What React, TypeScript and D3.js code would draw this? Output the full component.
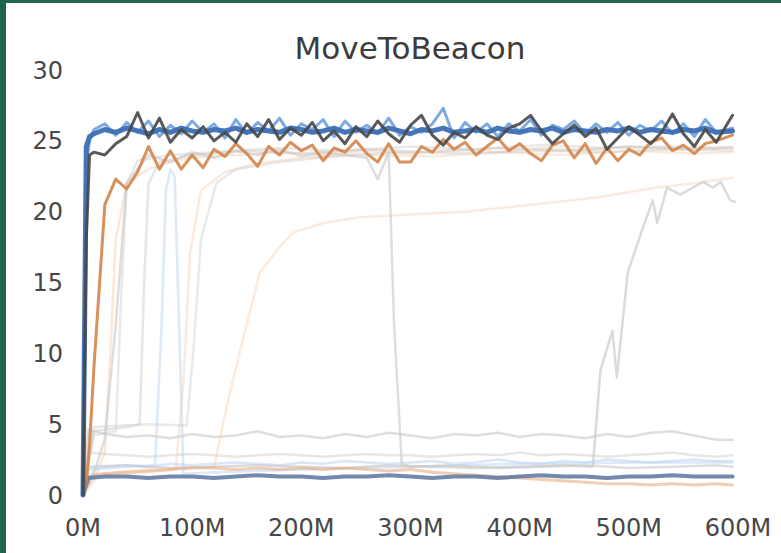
import React, { useEffect, useRef } from "react";
import * as d3 from "d3";

// training steps (in millions) shared by the highlighted runs
const steps = [
  0, 3, 6, 10, 20, 30, 40, 50, 60, 70, 80, 90, 100, 110, 120, 130, 140, 150, 160, 170, 180, 190, 200,
  210, 220, 230, 240, 250, 260, 270, 280, 290, 300, 310, 320, 330, 340, 350, 360, 370, 380, 390, 400,
  410, 420, 430, 440, 450, 460, 470, 480, 490, 500, 510, 520, 530, 540, 550, 560, 570, 580, 595,
];

const blueMain = [
  0, 24.6, 25.3, 25.5, 25.8, 25.6, 25.9, 25.7, 25.5, 25.8,
  25.6, 25.9, 25.7, 25.6, 25.8, 25.7, 25.9, 25.6, 25.8, 25.7,
  25.6, 25.9, 25.8, 25.6, 25.7, 25.9, 25.6, 25.8, 25.7, 25.6,
  25.9, 25.7, 25.5, 25.8, 25.7, 25.9, 25.6, 25.7, 25.8, 25.6,
  25.9, 25.7, 25.6, 25.8, 25.7, 25.9, 25.6, 25.8, 25.7, 25.6,
  25.8, 25.7, 25.9, 25.6, 25.8, 25.7, 25.6, 25.8, 25.7, 25.9, 25.6, 25.7,
];

const blueLight = [
  0, 23.5, 25.0, 25.8, 26.2, 25.4, 26.3, 25.6, 26.4, 25.3,
  26.1, 25.5, 26.4, 25.6, 26.2, 25.2, 26.5, 25.5, 26.3, 25.7,
  26.6, 25.4, 26.2, 25.8, 26.5, 25.3, 26.4, 25.6, 26.1, 25.5,
  26.6, 25.4, 26.0, 25.6, 26.2, 27.3, 25.2, 26.3, 25.6, 26.2,
  25.3, 26.2, 25.7, 26.5, 25.4, 26.1, 25.8, 26.4, 25.5, 26.2,
  25.6, 26.3, 25.4, 26.1, 25.7, 26.4, 25.5, 26.2, 25.3, 26.5, 25.6, 25.9,
];

const grayMain = [
  0, 18, 24.0, 24.2, 24.0, 24.8, 25.3, 27.0, 25.2, 26.6,
  24.9, 25.8, 25.2, 26.0, 25.0, 25.6, 24.9, 26.2, 25.3, 26.5,
  25.1, 25.9, 25.4, 26.3, 25.0, 25.7, 24.8, 26.0, 25.3, 26.4,
  25.5, 24.9, 26.1, 26.8, 25.4, 24.7, 25.6, 25.2, 26.0, 25.4,
  25.1, 25.9, 26.2, 26.8, 25.7, 24.8, 25.5, 26.1, 25.3, 25.9,
  24.4, 25.2, 26.0, 25.4, 24.8, 25.6, 26.9, 25.5, 24.6, 25.8, 24.9, 26.8,
];

const orangeMain = [
  0, 0.8, 3.5, 9, 20.5, 22.3, 21.6, 22.8, 24.6, 23.0,
  24.3, 23.0, 24.0, 23.1, 24.4, 23.9, 24.8, 24.1, 23.2, 24.6,
  24.0, 24.9, 24.3, 24.7, 23.6, 24.5, 24.2, 25.0, 24.1, 23.5,
  24.8, 23.5, 23.5, 24.6, 24.2, 25.1, 24.4, 24.9, 24.0, 24.6,
  25.2, 24.3, 24.8, 24.1, 23.6, 24.7, 25.0, 23.8, 24.8, 23.4,
  24.5, 23.6, 24.4, 24.0, 24.9, 25.2, 24.3, 24.7, 24.1, 24.8, 25.0, 25.4,
];

// coarse grid for the runs that stay low
const coarseSteps = [
  0, 5, 20, 40, 60, 80, 100, 120, 140, 160, 180, 200, 220, 240, 260, 280, 300,
  320, 340, 360, 380, 400, 420, 440, 460, 480, 500, 520, 540, 560, 580, 595,
];

const lowBlue = [
  0, 1.2, 1.3, 1.3, 1.2, 1.3, 1.3, 1.2, 1.3, 1.4, 1.3, 1.3, 1.2, 1.3, 1.3, 1.4,
  1.3, 1.2, 1.3, 1.3, 1.2, 1.3, 1.4, 1.3, 1.3, 1.2, 1.3, 1.3, 1.4, 1.3, 1.3, 1.3,
];
const lowOrange = [
  0, 1.3, 1.5, 1.6, 1.7, 1.8, 1.9, 1.9, 1.8, 1.9, 1.8, 1.9, 1.8, 1.9, 1.8, 1.7,
  1.8, 1.6, 1.5, 1.4, 1.3, 1.2, 1.1, 1.0, 0.9, 0.8, 0.8, 0.7, 0.8, 0.7, 0.8, 0.7,
];
const lowGrayA = [
  0, 4.6, 4.3, 4.1, 4.2, 4.0, 4.3, 4.1, 4.2, 4.5, 4.1, 4.2, 4.0, 4.3, 4.1, 4.4,
  4.2, 4.0, 4.3, 4.2, 4.4, 4.1, 4.3, 4.2, 4.0, 4.3, 4.1, 4.4, 4.5, 4.2, 3.9, 3.9,
];
const lowGrayB = [
  0, 3.0, 2.9, 2.8, 2.7, 2.8, 2.9, 2.8, 2.7, 2.8, 2.9, 2.8, 2.7, 2.8, 2.9, 2.8,
  2.8, 2.7, 2.8, 2.9, 2.8, 3.0, 2.8, 2.9, 2.8, 2.7, 2.8, 2.9, 3.0, 2.8, 2.7, 2.8,
];
const lowLightBlue = [
  0, 1.8, 2.0, 2.1, 2.0, 2.2, 2.1, 2.2, 2.3, 2.2, 2.1, 2.3, 2.2, 2.4, 2.3, 2.2,
  2.3, 2.4, 2.2, 2.3, 2.5, 2.3, 2.2, 2.4, 2.3, 2.5, 2.4, 2.3, 2.4, 2.5, 2.4, 2.4,
];

// faint runs with their own step grids
const crashSteps = [0, 10, 20, 30, 40, 60, 80, 100, 120, 140, 160, 180, 200, 220, 240, 260, 270, 280, 285, 292, 300, 340, 380, 420, 460, 500, 540, 580, 595];
const crashValues = [0, 1.5, 4, 12, 22, 24, 23.5, 24.2, 23.8, 24.3, 24.0, 24.4, 23.9, 24.2, 24.0, 23.8, 22.3, 24.2, 12, 2.2, 2.0, 2.1, 1.9, 2.0, 2.1, 1.9, 2.0, 2.1, 2.0];

const lateSteps = [0, 5, 40, 80, 120, 160, 200, 240, 280, 320, 360, 400, 440, 467, 474, 485, 489, 499, 513, 522, 526, 535, 547, 568, 577, 584, 593, 597];
const lateValues = [0, 2.0, 2.1, 1.9, 2.0, 2.1, 2.0, 1.9, 2.1, 2.0, 1.9, 2.0, 2.1, 2.0, 8.8, 11.6, 8.3, 15.7, 18.9, 20.8, 19.2, 21.7, 21.2, 22.1, 21.7, 22.1, 20.8, 20.7];

const slowSteps = [0, 10, 60, 120, 133, 144, 162, 180, 192, 220, 254, 300, 350, 413, 470, 526, 560, 595];
const slowValues = [0, 1.5, 1.8, 2.0, 6.7, 10.2, 15.7, 17.5, 18.5, 19.2, 19.6, 19.8, 20.0, 20.5, 21.0, 21.7, 22.0, 22.4];

const orangeBSteps = [0, 10, 20, 25, 30, 40, 60, 80, 100, 140, 180, 220, 260, 300, 340, 380, 420, 460, 500, 540, 580, 595];
const orangeBValues = [0, 1, 3, 10, 18, 22, 23, 23.5, 23.8, 24, 24.2, 24.0, 24.3, 24.1, 24.4, 24.2, 24.5, 24.3, 24.6, 24.4, 24.5, 24.6];

const orangeCSteps = [0, 10, 60, 85, 92, 98, 108, 130, 160, 200, 260, 320, 380, 440, 500, 560, 595];
const orangeCValues = [0, 1.4, 1.6, 1.8, 8, 17, 21.5, 22.8, 23.4, 23.8, 24.0, 23.9, 24.2, 24.0, 24.3, 24.1, 24.2];

const grayRiseASteps = [0, 10, 40, 52, 56, 60, 70, 100, 150, 200, 260, 320, 380, 440, 500, 560, 595];
const grayRiseAValues = [0, 4.5, 4.8, 5, 15, 22, 23.5, 24, 24.3, 24.1, 24.4, 24.2, 24.5, 24.3, 24.6, 24.4, 24.5];

const grayRiseBSteps = [0, 10, 60, 95, 101, 108, 122, 140, 180, 240, 300, 360, 420, 480, 540, 595];
const grayRiseBValues = [0, 4.8, 5.0, 4.9, 10, 18, 22, 23, 23.5, 24, 24.2, 24.1, 24.3, 24.2, 24.4, 24.3];

const grayRiseCSteps = [0, 10, 30, 35, 40, 50, 80, 120, 180, 240, 300, 360, 420, 480, 540, 595];
const grayRiseCValues = [0, 4.2, 4.5, 14, 22, 23.6, 24.0, 24.2, 24.5, 24.3, 24.6, 24.4, 24.7, 24.5, 24.6, 24.5];

const blueSpikeSteps = [0, 10, 40, 66, 72, 76, 80, 84, 88, 92, 120, 200, 300, 400, 500, 595];
const blueSpikeValues = [0, 1.8, 2.0, 2.1, 12, 21.5, 23, 22.5, 12, 1.5, 1.6, 1.8, 2.0, 2.2, 2.3, 2.3];

const xTicks = [0, 100, 200, 300, 400, 500, 600];
const yTicks = [0, 5, 10, 15, 20, 25, 30];

const App = () => {
  const svgRef = useRef(null);

  useEffect(() => {
    const W = 781;
    const H = 553;
    const svg = d3.select(svgRef.current);
    svg.selectAll("*").remove();
    svg.attr("width", W).attr("height", H);

    // frame
    svg.append("rect").attr("width", W).attr("height", H).attr("fill", "#21644f");
    svg.append("rect").attr("x", 6).attr("y", 3).attr("width", W - 6).attr("height", H - 3).attr("fill", "#ffffff");

    const x = d3.scaleLinear().domain([0, 600]).range([83, 738]);
    const y = d3.scaleLinear().domain([0, 30]).range([495, 70]);

    const font = "'DejaVu Sans', sans-serif";

    svg
      .append("text")
      .attr("x", 410)
      .attr("y", 59)
      .attr("text-anchor", "middle")
      .attr("font-family", font)
      .attr("font-size", 31)
      .attr("fill", "#3c3c3c")
      .text("MoveToBeacon");

    svg
      .append("g")
      .selectAll("text")
      .data(yTicks)
      .enter()
      .append("text")
      .attr("x", 63)
      .attr("y", (d) => y(d))
      .attr("dy", "0.36em")
      .attr("text-anchor", "end")
      .attr("font-family", font)
      .attr("font-size", 24)
      .attr("fill", "#474747")
      .text((d) => d);

    svg
      .append("g")
      .selectAll("text")
      .data(xTicks)
      .enter()
      .append("text")
      .attr("x", (d) => x(d))
      .attr("y", 536)
      .attr("text-anchor", "middle")
      .attr("font-family", font)
      .attr("font-size", 24)
      .attr("fill", "#474747")
      .text((d) => `${d}M`);

    const line = d3
      .line()
      .x((d) => x(d[0]))
      .y((d) => y(d[1]));

    const draw = (xs, ys, color, width, opacity) => {
      svg
        .append("path")
        .datum(xs.map((s, i) => [s, ys[i]]))
        .attr("d", line)
        .attr("fill", "none")
        .attr("stroke", color)
        .attr("stroke-width", width)
        .attr("stroke-opacity", opacity)
        .attr("stroke-linejoin", "round")
        .attr("stroke-linecap", "round");
    };

    // faint background runs
    draw(slowSteps, slowValues, "#f0b88c", 2.5, 0.28);
    draw(orangeCSteps, orangeCValues, "#f0b88c", 2.5, 0.28);
    draw(orangeBSteps, orangeBValues, "#f0b88c", 2.5, 0.32);
    draw(blueSpikeSteps, blueSpikeValues, "#b9d3f0", 2.5, 0.5);
    draw(grayRiseASteps, grayRiseAValues, "#c8c8c8", 2.5, 0.45);
    draw(grayRiseBSteps, grayRiseBValues, "#c8c8c8", 2.5, 0.4);
    draw(grayRiseCSteps, grayRiseCValues, "#c8c8c8", 2.5, 0.4);
    draw(crashSteps, crashValues, "#c8c8c8", 2.5, 0.6);
    draw(lateSteps, lateValues, "#c8c8c8", 2.5, 0.65);
    draw(coarseSteps, lowGrayA, "#c8c8c8", 2.5, 0.6);
    draw(coarseSteps, lowGrayB, "#d0d0d0", 2.5, 0.5);
    draw(coarseSteps, lowLightBlue, "#bcd4ef", 2.5, 0.55);
    draw(coarseSteps, lowOrange, "#e6a878", 3, 0.55);
    draw(coarseSteps, lowBlue, "#5a74a0", 4, 0.85);

    // highlighted runs
    draw(steps, orangeMain, "#d4844a", 3, 0.9);
    draw(steps, blueLight, "#5e95d8", 3, 0.8);
    draw(steps, blueMain, "#3c6fb4", 5, 0.95);
    draw(steps, grayMain, "#474747", 3, 0.9);
  }, []);

  return <svg ref={svgRef} style={{ position: "absolute", left: 0, top: 0 }}></svg>;
};

export default App;
